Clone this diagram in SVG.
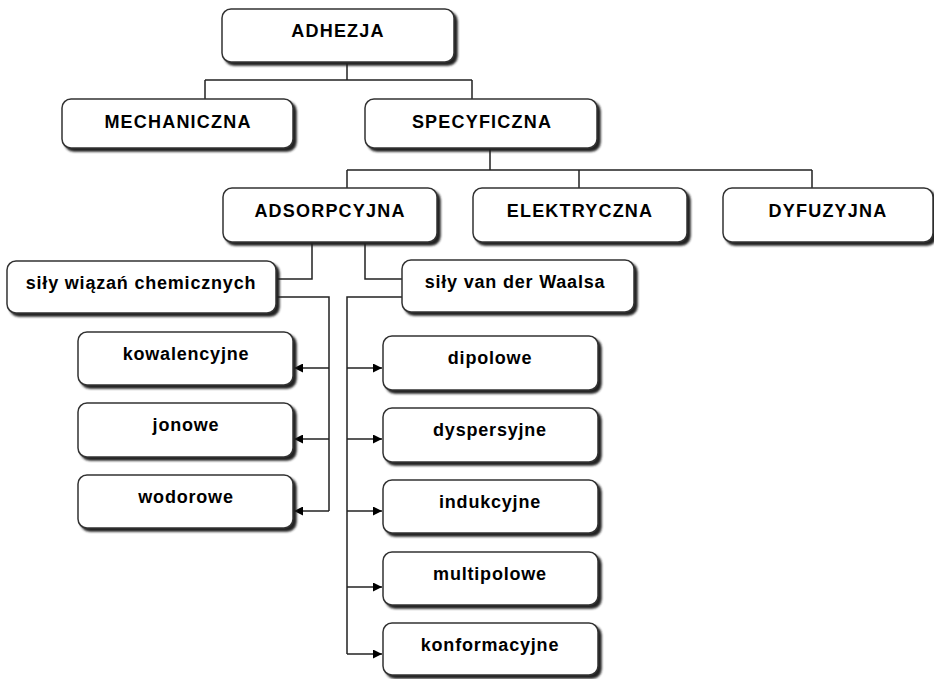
<svg xmlns="http://www.w3.org/2000/svg" width="934" height="679" viewBox="0 0 934 679">
<defs>
<style>
.box{fill:#fff;stroke:#333;stroke-width:1.5;filter:url(#sh)}
.t{font-family:"Liberation Sans",Arial,sans-serif;font-weight:bold;font-size:18px;fill:#000;text-anchor:middle;letter-spacing:0.8px}
.u{letter-spacing:1.2px}
.c{fill:none;stroke:#222;stroke-width:1.5}
</style>
<filter id="sh" x="-10%" y="-10%" width="120%" height="130%">
<feDropShadow dx="3" dy="3" stdDeviation="0.9" flood-color="#222" flood-opacity="1"/>
</filter>
<marker id="ar" viewBox="0 0 10 10" refX="10" refY="5" markerWidth="10" markerHeight="9" markerUnits="userSpaceOnUse" orient="auto">
<path d="M0,0 L10,5 L0,10 Z" fill="#000"/>
</marker>
</defs>
<rect width="934" height="679" fill="#fff"/>
<g id="connectors">
<path class="c" d="M347,62 V80 M205,80 H472 M205,80 V99 M472,80 V99"/>
<path class="c" d="M490,148 V170 M347,170 H812 M347,170 V188 M579,170 V188 M812,170 V188"/>
<path class="c" d="M312,242 V279 H276"/>
<path class="c" d="M365,242 V279 H402"/>
<path class="c" d="M276,297 H329 V511"/>
<path class="c" d="M402,297 H347 V654"/>
<path class="c" marker-end="url(#ar)" d="M329,368 H294"/>
<path class="c" marker-end="url(#ar)" d="M329,439 H294"/>
<path class="c" marker-end="url(#ar)" d="M329,511 H294"/>
<path class="c" marker-end="url(#ar)" d="M347,368 H382"/>
<path class="c" marker-end="url(#ar)" d="M347,439 H382"/>
<path class="c" marker-end="url(#ar)" d="M347,511 H382"/>
<path class="c" marker-end="url(#ar)" d="M347,587 H382"/>
<path class="c" marker-end="url(#ar)" d="M347,654 H382"/>
</g>
<g id="adhezja"><rect class="box" x="222" y="9" width="232" height="53" rx="9"/><text class="t u" x="338" y="37">ADHEZJA</text></g>
<g id="mechaniczna"><rect class="box" x="62" y="99" width="231" height="49" rx="9"/><text class="t u" x="178" y="128">MECHANICZNA</text></g>
<g id="specyficzna"><rect class="box" x="365" y="99" width="232" height="49" rx="9"/><text class="t u" x="482" y="128">SPECYFICZNA</text></g>
<g id="adsorpcyjna"><rect class="box" x="223" y="188" width="214" height="54" rx="9"/><text class="t u" x="330" y="217">ADSORPCYJNA</text></g>
<g id="elektryczna"><rect class="box" x="473" y="188" width="214" height="54" rx="9"/><text class="t u" x="580" y="217">ELEKTRYCZNA</text></g>
<g id="dyfuzyjna"><rect class="box" x="723" y="188" width="210" height="54" rx="9"/><text class="t u" x="828" y="217">DYFUZYJNA</text></g>
<g id="sily-wiazan"><rect class="box" x="7" y="261" width="269" height="52" rx="9"/><text class="t" x="141" y="289">siły wiązań chemicznych</text></g>
<g id="sily-vdw"><rect class="box" x="402" y="260" width="232" height="52" rx="9"/><text class="t" x="515" y="288">siły van der Waalsa</text></g>
<g id="kowalencyjne"><rect class="box" x="78" y="332" width="215" height="53" rx="9"/><text class="t" x="186" y="360">kowalencyjne</text></g>
<g id="jonowe"><rect class="box" x="78" y="403" width="215" height="54" rx="9"/><text class="t" x="186" y="431">jonowe</text></g>
<g id="wodorowe"><rect class="box" x="78" y="475" width="215" height="53" rx="9"/><text class="t" x="186" y="503">wodorowe</text></g>
<g id="dipolowe"><rect class="box" x="383" y="336" width="215" height="54" rx="9"/><text class="t" x="490" y="364">dipolowe</text></g>
<g id="dyspersyjne"><rect class="box" x="383" y="408" width="215" height="54" rx="9"/><text class="t" x="490" y="436">dyspersyjne</text></g>
<g id="indukcyjne"><rect class="box" x="383" y="480" width="215" height="53" rx="9"/><text class="t" x="490" y="508">indukcyjne</text></g>
<g id="multipolowe"><rect class="box" x="383" y="552" width="215" height="53" rx="9"/><text class="t" x="490" y="580">multipolowe</text></g>
<g id="konformacyjne"><rect class="box" x="383" y="623" width="215" height="52" rx="9"/><text class="t" x="490" y="651">konformacyjne</text></g>
</svg>
